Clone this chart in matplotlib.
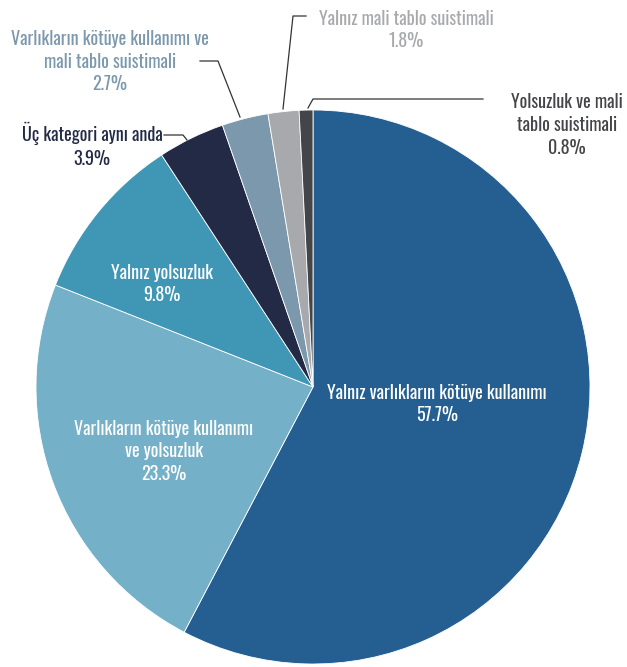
import matplotlib
matplotlib.use("Agg")
import matplotlib.pyplot as plt

labels = ["Yalnız varlıkların kötüye kullanımı", "Varlıkların kötüye kullanımı\nve yolsuzluk",
          "Yalnız yolsuzluk", "Üç kategori aynı anda", "Varlıkların kötüye kullanımı ve\nmali tablo suistimali",
          "Yalnız mali tablo suistimali", "Yolsuzluk ve mali\ntablo suistimali"]
values = [57.7, 23.3, 9.8, 3.9, 2.7, 1.8, 0.8]
colors = ["#255f91", "#74b0c8", "#4096b5", "#222a45", "#7b98ad", "#a7a9ac", "#444548"]
text_colors = ["white", "white", "white", "#222a45", "#7b98ad", "#a7a9ac", "#444548"]

W, H = 627, 667
fig = plt.figure(figsize=(W / 100, H / 100), dpi=100)
ax = fig.add_axes([0, 0, 1, 1])

ax.pie(values, colors=colors, startangle=90, counterclock=False, center=(313, H - 387),
       radius=277, wedgeprops=dict(linewidth=0.6, edgecolor="white"), frame=True)
ax.set_xlim(0, W)
ax.set_ylim(0, H)
ax.set_aspect("equal")
ax.axis("off")

# label positions (pixels from top-left)
pos = [(437, 404), (164, 451), (162, 284), (92, 145), (110, 62), (406, 30), (567, 125)]
fam = ["Oswald", "Antonio", "DejaVu Sans"]
for lab, v, (x, y), c in zip(labels, values, pos, text_colors):
    ax.text(x, H - y, f"{lab}\n{v}%", ha="center", va="center", color=c, fontsize=13,
            family=fam, linespacing=1.3)

leaders = [
    [(164, 135), (183, 135), (187, 140)],
    [(200, 61), (218, 61), (240, 117)],
    [(306, 16), (293, 16), (283, 109)],
    [(483, 99), (313, 99), (308, 108)],
]
for pts in leaders:
    ax.plot([p[0] for p in pts], [H - p[1] for p in pts], color="#333333", lw=0.9)

fig.savefig("out.png", dpi=100)
